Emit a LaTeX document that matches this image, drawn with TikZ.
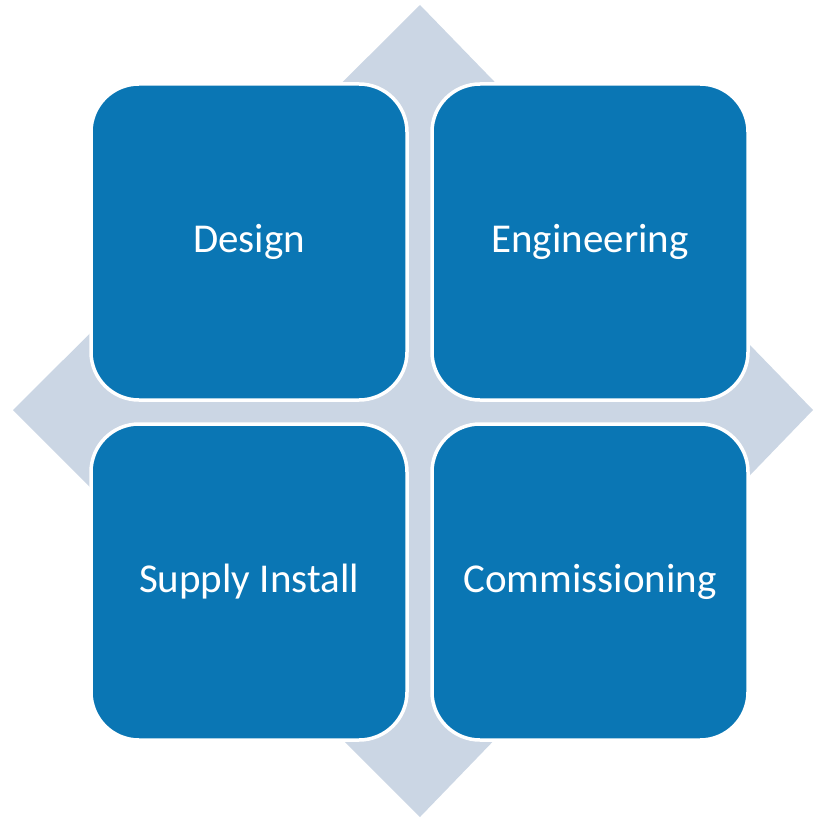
\documentclass[tikz,border=0pt]{standalone}
\usepackage{fontspec}
\setmainfont{Carlito}
\definecolor{boxblue}{RGB}{10,118,180}
\definecolor{diamondgray}{RGB}{203,214,228}
\begin{document}
\begin{tikzpicture}[x=1pt,y=-1pt,
  cell/.style={draw=white, line width=3.5pt, fill=boxblue, rounded corners=48pt,
    minimum width=316pt, minimum height=316pt, inner sep=0pt, text=white,
    font=\fontsize{41}{48}\selectfont, anchor=center}]
\useasboundingbox (0,0) rectangle (814,818);
\fill[diamondgray] (420,5) -- (813,410) -- (420,817) -- (13,410) -- cycle;
\node[cell] (design) at (249,242) {Design};
\node[cell] (eng) at (590,242) {Engineering};
\node[cell] (supply) at (249,582) {Supply Install};
\node[cell] (comm) at (590,582) {Commissioning};
\end{tikzpicture}
\end{document}
